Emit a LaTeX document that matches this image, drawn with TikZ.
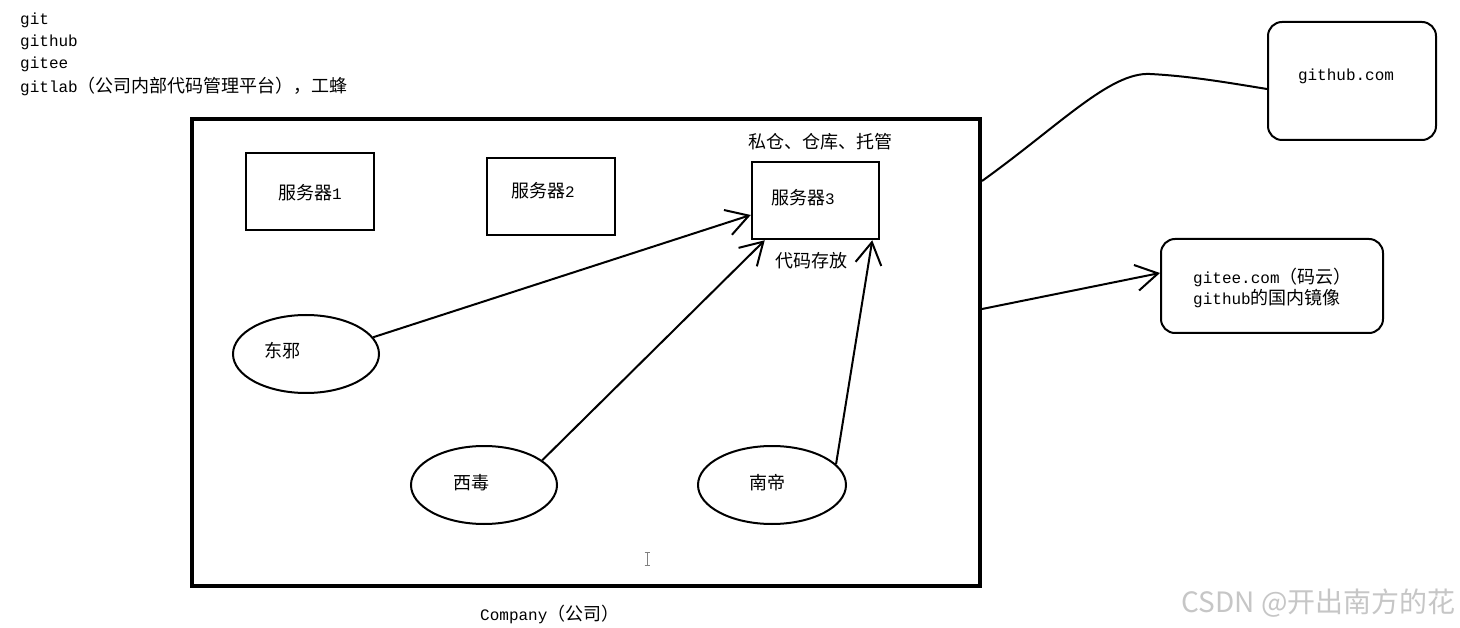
\documentclass[tikz,border=0pt]{standalone}
\usepackage{fontspec}
\setmainfont{Liberation Mono}
\newfontfamily\cjk{Noto Sans CJK SC}[Scale=1.125]
\newfontfamily\wmfont{Noto Sans CJK SC}
\usetikzlibrary{shapes.geometric,arrows.meta}
\begin{document}
\begin{tikzpicture}[x=1pt,y=-1pt,
  txt/.style={inner sep=0pt, font=\fontsize{16}{21}\selectfont},
  srv/.style={draw, line width=2.5pt, minimum width=128pt, minimum height=77pt, inner sep=0pt},
  person/.style={draw, ellipse, line width=2pt, minimum width=146pt, minimum height=78pt, inner sep=0pt},
  cloudbox/.style={draw, rounded corners=14pt, line width=2pt, inner sep=0pt},
  arr/.style={line width=2pt, -{Straight Barb[length=22pt,width=26pt]}},
  plain/.style={line width=2pt}
  ]
\useasboundingbox[fill=white] (0,0) rectangle (1460,628);

% top-left list
\node[txt, anchor=west] (t1) at (20,20) {git};
\node[txt, anchor=west] (t2) at (20,42) {github};
\node[txt, anchor=west] (t3) at (20,64) {gitee};
\node[txt, anchor=west] (t4) at (20,86) {gitlab{\cjk（公司内部代码管理平台），工蜂}};

% company box
\node[draw, line width=4pt, minimum width=788pt, minimum height=467pt, inner sep=0pt] (company) at (586,352.5) {};
\node[txt, anchor=west] (companylbl) at (480,614) {Company{\cjk（公司）}};

% servers
\node[srv] (s1) at (310,191.5) {};
\node[txt] (s1t) at (310,193) {{\cjk 服务器}1};
\node[srv] (s2) at (551,196.5) {};
\node[txt] (s2t) at (543,191) {{\cjk 服务器}2};
\node[srv, minimum width=127pt] (s3) at (815.5,200.5) {};
\node[txt] (s3t) at (803,198) {{\cjk 服务器}3};
\node[txt] (s3top) at (820,142) {\cjk 私仓、仓库、托管};
\node[txt] (s3bot) at (811,261) {\cjk 代码存放};

% people
\node[person] (dx) at (306,354) {};
\node[txt] (dxt) at (282,351) {\cjk 东邪};
\node[person] (xd) at (484,485) {};
\node[txt] (xdt) at (471,483) {\cjk 西毒};
\node[person, minimum width=148pt] (nd) at (772,485) {};
\node[txt] (ndt) at (767,483) {\cjk 南帝};

% arrows to server 3
\draw[arr] (dx.14) -- ([yshift=-14.5pt]s3.west);
\draw[arr] (xd.23.7) -- ([xshift=14pt]s3.south west);
\draw[arr] (nd.18.4) -- ([xshift=-8pt]s3.south east);

% external hosts
\node[cloudbox, minimum width=168pt, minimum height=118pt] (gh) at (1352,81) {};
\node[txt] (ght) at (1346,76) {github.com};
\node[cloudbox, minimum width=222pt, minimum height=94pt] (ge) at (1272,286) {};
\node[txt, anchor=west, align=left] (get) at (1193,288) {gitee.com{\cjk（码云）}\\github{\cjk 的国内镜像}};

\draw[plain] ([yshift=171.5pt]company.east) .. controls (1060,125) and (1110,72) .. (1150,74) .. controls (1190,76) and (1230,83) .. ([yshift=-8pt]gh.west);
\draw[arr] ([yshift=43.5pt]company.east) -- ([yshift=13pt]ge.west);

% text cursor
\draw[gray, line width=0.8pt] (647,552) -- (647,565) (644.5,552) -- (649.5,552) (644.5,565) -- (649.5,565);

% watermark
\node[anchor=east, inner sep=0pt, text=gray!45, font=\wmfont\fontsize{28}{30}\selectfont] (wm) at (1456,603) {CSDN @开出南方的花};
\end{tikzpicture}
\end{document}
